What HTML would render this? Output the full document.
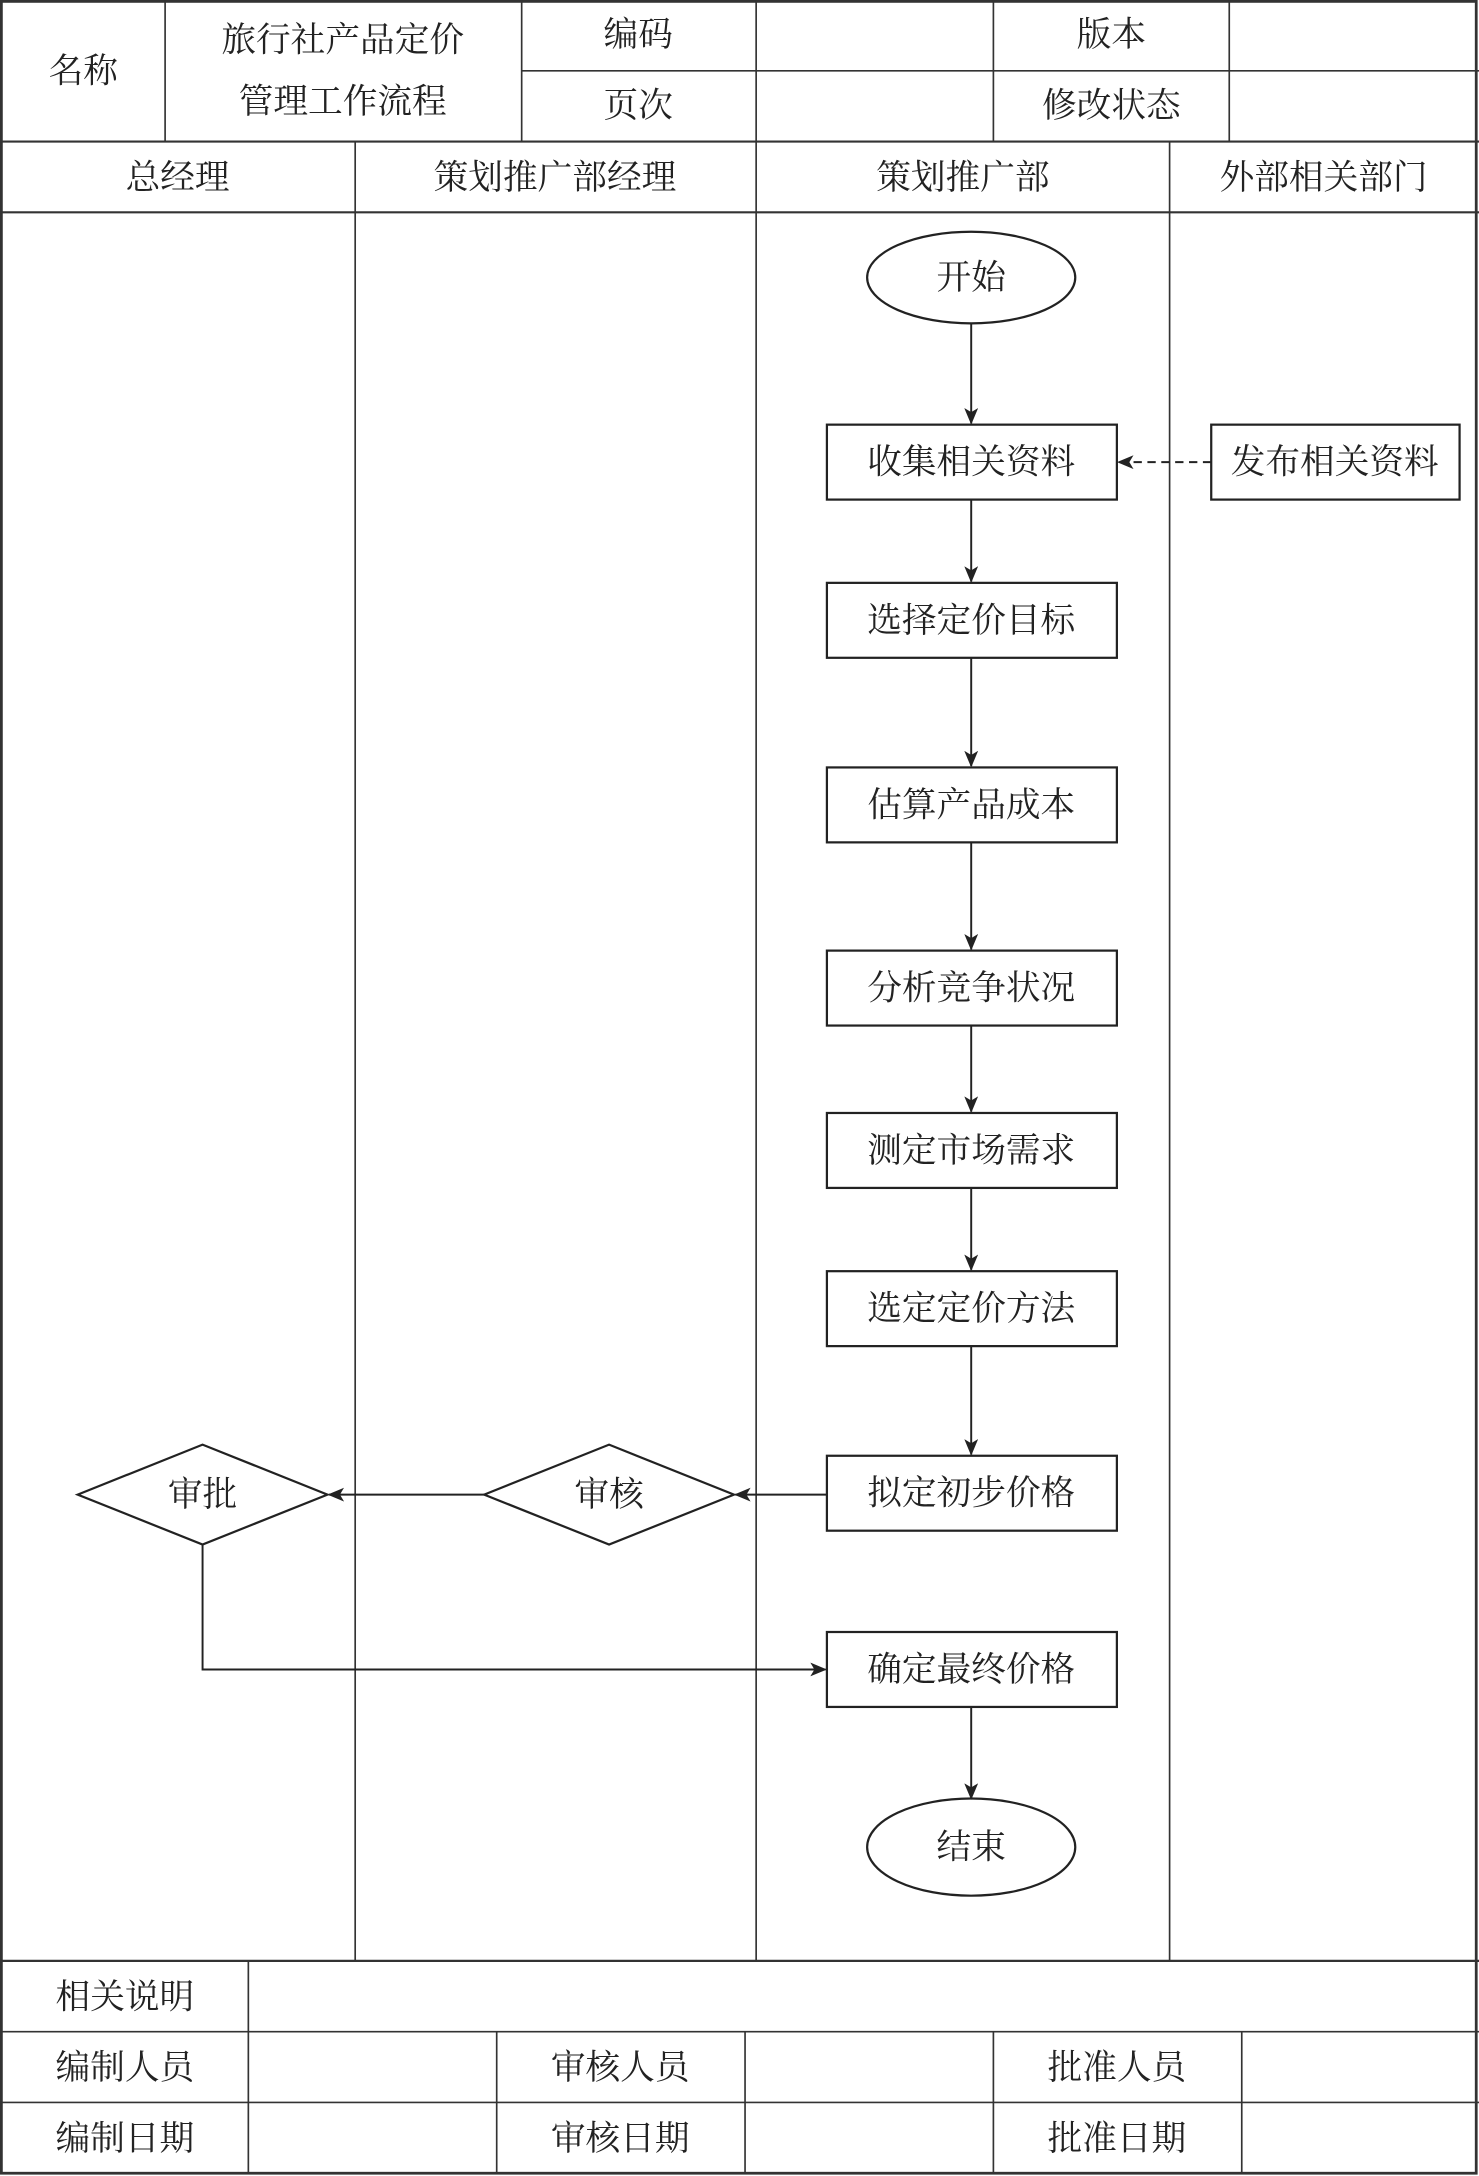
<!DOCTYPE html>
<html><head><meta charset="utf-8"><style>
html,body{margin:0;padding:0;background:#fff}
svg{display:block}
text{font-family:"Liberation Serif","Noto Serif CJK SC","Noto Sans CJK SC",serif;font-size:25px;fill:#222;text-anchor:middle;dominant-baseline:central}
</style></head><body>
<svg width="1479" height="2176" viewBox="0 0 1066 1568" preserveAspectRatio="none" xmlns="http://www.w3.org/2000/svg">
<defs><marker id="a" markerWidth="12" markerHeight="10" refX="11" refY="5" orient="auto" markerUnits="userSpaceOnUse"><path d="M0,0 L12,5 L0,10 L3,5 z" fill="#222"/></marker></defs>
<g stroke="#333" stroke-width="1.2" fill="none">
<rect x="1" y="1" width="1063" height="1565" stroke-width="2"/>
<line x1="0" y1="102" x2="1066" y2="102" stroke-width="1.6"/>
<line x1="376" y1="51" x2="1066" y2="51"/>
<line x1="119" y1="0" x2="119" y2="102"/>
<line x1="376" y1="0" x2="376" y2="102"/>
<line x1="545" y1="0" x2="545" y2="102"/>
<line x1="716" y1="0" x2="716" y2="102"/>
<line x1="886" y1="0" x2="886" y2="102"/>
<line x1="0" y1="153" x2="1066" y2="153" stroke-width="1.6"/>
<line x1="256" y1="102" x2="256" y2="1413"/>
<line x1="545" y1="102" x2="545" y2="1413"/>
<line x1="843" y1="102" x2="843" y2="1413"/>
<line x1="0" y1="1413" x2="1066" y2="1413" stroke-width="1.6"/>
<line x1="0" y1="1464" x2="1066" y2="1464"/>
<line x1="0" y1="1515" x2="1066" y2="1515"/>
<line x1="179" y1="1413" x2="179" y2="1566"/>
<line x1="358" y1="1464" x2="358" y2="1566"/>
<line x1="537" y1="1464" x2="537" y2="1566"/>
<line x1="716" y1="1464" x2="716" y2="1566"/>
<line x1="895" y1="1464" x2="895" y2="1566"/>
</g>
<g stroke="#222" stroke-width="1.6" fill="#fff">
<ellipse cx="700" cy="200" rx="75" ry="33"/>
<rect x="596" y="306" width="209" height="54"/>
<rect x="873" y="306" width="179" height="54"/>
<rect x="596" y="420" width="209" height="54"/>
<rect x="596" y="553" width="209" height="54"/>
<rect x="596" y="685" width="209" height="54"/>
<rect x="596" y="802" width="209" height="54"/>
<rect x="596" y="916" width="209" height="54"/>
<rect x="596" y="1049" width="209" height="54"/>
<rect x="596" y="1176" width="209" height="54"/>
<ellipse cx="700" cy="1331" rx="75" ry="35"/>
<polygon points="349,1077 439,1041 529,1077 439,1113"/>
<polygon points="56,1077 146,1041 236,1077 146,1113"/>
</g>
<g stroke="#222" stroke-width="1.4" fill="none" marker-end="url(#a)">
<line x1="700" y1="233" x2="700" y2="305"/>
<line x1="700" y1="360" x2="700" y2="419"/>
<line x1="700" y1="474" x2="700" y2="552"/>
<line x1="700" y1="607" x2="700" y2="684"/>
<line x1="700" y1="739" x2="700" y2="801"/>
<line x1="700" y1="856" x2="700" y2="915"/>
<line x1="700" y1="970" x2="700" y2="1048"/>
<line x1="700" y1="1230" x2="700" y2="1296"/>
<line x1="873" y1="333" x2="806" y2="333" stroke-dasharray="6,4"/>
<line x1="596" y1="1077" x2="530" y2="1077"/>
<line x1="349" y1="1077" x2="237" y2="1077"/>
<polyline points="146,1113 146,1203 595,1203"/>
</g>
<text x="60" y="51">名称</text>
<text x="247" y="29">旅行社产品定价</text>
<text x="247" y="73">管理工作流程</text>
<text x="460" y="25">编码</text>
<text x="460" y="76">页次</text>
<text x="801" y="25">版本</text>
<text x="801" y="76">修改状态</text>
<text x="128" y="128">总经理</text>
<text x="400" y="128">策划推广部经理</text>
<text x="694" y="128">策划推广部</text>
<text x="954" y="128">外部相关部门</text>
<text x="700" y="200">开始</text>
<text x="700" y="333">收集相关资料</text>
<text x="962" y="333">发布相关资料</text>
<text x="700" y="447">选择定价目标</text>
<text x="700" y="580">估算产品成本</text>
<text x="700" y="712">分析竞争状况</text>
<text x="700" y="829">测定市场需求</text>
<text x="700" y="943">选定定价方法</text>
<text x="700" y="1076">拟定初步价格</text>
<text x="700" y="1203">确定最终价格</text>
<text x="700" y="1331">结束</text>
<text x="439" y="1077">审核</text>
<text x="146" y="1077">审批</text>
<text x="90" y="1439">相关说明</text>
<text x="90" y="1490">编制人员</text>
<text x="447" y="1490">审核人员</text>
<text x="805" y="1490">批准人员</text>
<text x="90" y="1541">编制日期</text>
<text x="447" y="1541">审核日期</text>
<text x="805" y="1541">批准日期</text>
</svg>
</body></html>
